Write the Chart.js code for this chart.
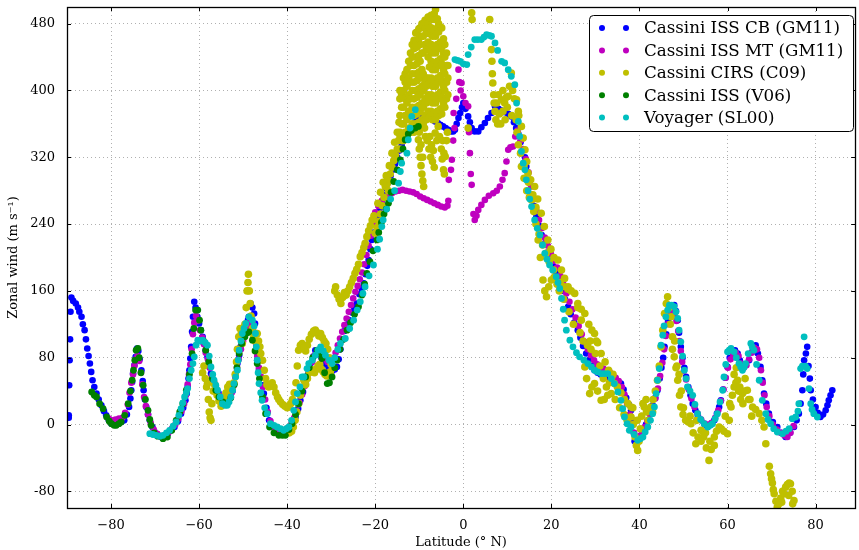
<!DOCTYPE html>
<html>
<head>
<meta charset="utf-8">
<script src="https://cdn.jsdelivr.net/npm/chart.js@4.4.1/dist/chart.umd.min.js"></script>
<style>
html, body { margin: 0; padding: 0; background: #fff; }
</style>
</head>
<body>
<canvas id="chart" width="859" height="550"></canvas>
<script>
// Saturn zonal wind profiles
// each series is a list of [latitude, wind] pairs

const xTicks = [-80, -60, -40, -20, 0, 20, 40, 60, 80];
const yTicks = [-80, 0, 80, 160, 240, 320, 400, 480];

const seriesLabels = ['Cassini ISS CB (GM11)', 'Cassini ISS MT (GM11)', 'Cassini CIRS (C09)', 'Cassini ISS (V06)', 'Voyager (SL00)'];
const seriesColors = ['#0000ff', '#bf00bf', '#bfbf00', '#008000', '#00bfbf'];

const issCB = [
  [-89.6, 11], [-89.6, 8], [-89.5, 47], [-89.4, 77], [-89.3, 102], [-89.2, 135], [-89.0, 152], [-88.6, 148],
  [-88.0, 145], [-87.5, 140], [-87.2, 135], [-86.7, 129], [-86.4, 120], [-86.0, 113], [-85.7, 102], [-85.4, 91],
  [-85.1, 82], [-84.8, 73], [-84.5, 63], [-84.2, 53], [-83.8, 45], [-83.3, 37], [-82.8, 30], [-82.2, 23],
  [-81.6, 16], [-81.1, 11], [-80.5, 5], [-79.9, 1], [-79.2, 0], [-78.4, 1], [-77.7, 3], [-77.0, 5],
  [-76.4, 12], [-75.9, 21], [-75.6, 31], [-75.4, 41], [-75.2, 51], [-75.0, 61], [-74.7, 71], [-74.4, 81],
  [-74.1, 91], [-73.8, 88], [-73.5, 78], [-73.1, 65], [-72.8, 52], [-72.6, 41], [-72.3, 30], [-72.0, 21],
  [-71.6, 12], [-71.2, 5], [-70.6, -3], [-70.1, -9], [-69.3, -13], [-68.6, -15], [-67.8, -14], [-67.1, -11],
  [-66.3, -7], [-65.6, -3], [-64.8, 4], [-64.1, 13], [-63.6, 20], [-63.1, 29], [-62.8, 37], [-62.6, 45],
  [-62.4, 55], [-62.2, 65], [-62.0, 79], [-61.8, 93], [-61.6, 111], [-61.4, 129], [-61.1, 147], [-60.8, 140],
  [-60.4, 129], [-60.0, 121], [-59.6, 113], [-59.2, 105], [-58.9, 97], [-58.5, 89], [-58.1, 81], [-57.7, 71],
  [-57.3, 61], [-56.8, 53], [-56.2, 45], [-55.6, 38], [-55.1, 33], [-54.5, 28], [-54.0, 25], [-53.4, 28],
  [-52.8, 33], [-52.4, 40], [-52.1, 49], [-51.7, 61], [-51.3, 73], [-50.9, 83], [-50.6, 93], [-50.0, 105],
  [-49.4, 117], [-48.9, 125], [-48.7, 129], [-48.3, 145], [-47.9, 140], [-47.5, 133], [-47.3, 121], [-47.2, 109],
  [-47.0, 93], [-46.8, 77], [-46.4, 66], [-46.0, 57], [-45.6, 47], [-45.3, 37], [-44.7, 20], [-44.1, 5],
  [-43.4, -2], [-42.6, -7], [-41.7, -9], [-40.8, -9], [-40.0, -7], [-39.2, -3], [-38.6, 3], [-38.1, 9],
  [-37.5, 19], [-37.0, 29], [-36.4, 39], [-35.8, 49], [-35.2, 61], [-34.7, 73], [-34.1, 81], [-33.6, 89],
  [-33.0, 85], [-32.2, 80], [-31.4, 72], [-30.6, 66], [-29.8, 64], [-29.2, 66], [-28.7, 69], [-28.3, 78],
  [-27.9, 90], [-27.6, 101], [-27.0, 112], [-26.5, 119], [-26.0, 125], [-25.3, 134], [-24.8, 140], [-24.2, 145],
  [-23.6, 156], [-23.1, 163], [-22.6, 169], [-22.2, 180], [-21.8, 190], [-21.5, 197], [-21.1, 210], [-20.8, 221],
  [-20.4, 230], [-20.0, 240], [-19.5, 250], [-19.0, 258], [-18.5, 266], [-18.0, 275], [-17.5, 283], [-17.0, 290],
  [-16.5, 298], [-16.0, 305], [-15.5, 312], [-15.0, 320], [-14.5, 328], [-14.0, 334], [-13.5, 340], [-13.0, 345],
  [-12.5, 350], [-12.0, 354], [-11.5, 358], [-11.0, 362], [-10.5, 364], [-10.0, 366], [-9.4, 367], [-8.8, 369],
  [-8.2, 370], [-7.5, 369], [-6.9, 366], [-6.4, 363], [-5.8, 361], [-5.2, 359], [-4.6, 357], [-4.0, 355],
  [-3.4, 353], [-2.8, 351], [-2.3, 351], [-1.9, 353], [-1.5, 360], [-1.1, 367], [-0.7, 373], [-0.3, 380],
  [0.0, 385], [0.5, 378], [1.1, 369], [1.5, 362], [1.9, 355], [2.6, 351], [3.4, 351], [4.1, 356],
  [4.9, 361], [5.6, 367], [6.4, 373], [7.2, 381], [8.0, 378], [8.7, 376], [9.4, 374], [10.2, 372],
  [10.9, 369], [11.5, 362], [12.0, 355], [12.5, 348], [13.0, 338], [13.6, 329], [14.0, 320], [14.3, 309],
  [15.0, 290], [15.5, 275], [16.0, 262], [16.6, 249], [17.2, 238], [17.8, 227], [18.5, 217], [19.1, 206],
  [19.8, 196], [20.5, 189], [21.1, 181], [21.8, 171], [22.4, 160], [23.1, 150], [23.8, 141], [24.4, 132],
  [25.2, 122], [26.0, 113], [26.6, 104], [27.2, 94], [27.9, 85], [28.5, 77], [29.2, 70], [29.8, 65],
  [30.5, 62], [31.2, 60], [32.0, 59], [32.8, 57], [33.5, 55], [34.2, 53], [35.0, 51], [35.8, 49],
  [36.4, 42], [37.0, 32], [37.6, 24], [38.1, 17], [38.4, 5], [38.7, -10], [38.9, -20], [39.3, -23],
  [39.8, -20], [40.4, -13], [41.0, -6], [41.5, 0], [41.9, 5], [42.5, 15], [43.0, 23], [43.6, 32],
  [44.1, 41], [44.6, 55], [45.0, 68], [45.4, 80], [45.7, 93], [46.1, 108], [46.5, 124], [46.8, 137],
  [47.3, 142], [47.9, 143], [48.3, 136], [48.7, 125], [49.0, 110], [49.4, 93], [49.8, 80], [50.2, 68],
  [50.6, 57], [51.1, 45], [51.6, 35], [52.1, 25], [52.7, 17], [53.3, 10], [54.0, 5], [54.8, 0],
  [55.5, -3], [56.3, 0], [57.0, 5], [57.6, 13], [58.1, 21], [58.5, 29], [59.0, 42], [59.5, 56],
  [60.0, 69], [60.5, 80], [61.1, 89], [61.7, 89], [62.3, 85], [62.8, 77], [63.4, 69], [64.1, 72],
  [64.9, 77], [65.6, 87], [66.4, 95], [66.9, 85], [67.5, 69], [67.9, 53], [68.3, 37], [68.8, 25],
  [69.4, 13], [70.3, 3], [71.3, -3], [72.2, -10], [73.2, -15], [74.2, -10], [75.1, -3], [75.7, 5],
  [76.2, 13], [76.6, 25], [77.0, 41], [77.2, 60], [77.4, 77], [77.8, 85], [78.1, 93], [78.4, 70],
  [78.7, 55], [78.9, 41], [79.4, 30], [80.0, 21], [80.5, 14], [81.1, 9], [81.7, 12], [82.3, 17],
  [82.7, 23], [83.0, 29], [83.4, 35], [83.8, 41]
];

const issMT = [
  [-80.5, 7], [-79.8, 5], [-79.0, 6], [-78.2, 7], [-77.4, 8], [-76.8, 14], [-76.2, 24], [-75.8, 38],
  [-75.4, 50], [-75.0, 60], [-74.7, 70], [-74.4, 78], [-74.0, 82], [-73.6, 76], [-73.2, 62], [-72.9, 48],
  [-72.5, 33], [-72.1, 22], [-71.6, 12], [-71.0, 2], [-70.3, -6], [-69.5, -11], [-68.7, -14], [-67.8, -13],
  [-67.0, -10], [-66.2, -5], [-65.4, 0], [-64.7, 7], [-64.0, 16], [-63.4, 25], [-63.0, 35], [-62.6, 48],
  [-62.3, 60], [-62.0, 72], [-61.7, 90], [-61.4, 108], [-61.1, 122], [-60.7, 130], [-60.3, 124], [-59.8, 113],
  [-59.3, 104], [-58.9, 96], [-58.5, 86], [-58.0, 78], [-57.6, 68], [-57.1, 58], [-56.5, 49], [-55.9, 41],
  [-55.2, 34], [-54.5, 29], [-53.8, 27], [-53.1, 31], [-52.6, 38], [-52.2, 46], [-51.8, 57], [-51.4, 68],
  [-51.0, 78], [-50.5, 90], [-50.0, 100], [-49.4, 110], [-48.8, 118], [-48.3, 124], [-47.8, 121], [-47.4, 110],
  [-47.1, 98], [-46.8, 82], [-46.4, 68], [-46.0, 57], [-45.5, 45], [-45.0, 30], [-44.4, 15], [-43.8, 4],
  [-43.0, -3], [-42.2, -6], [-41.4, -8], [-40.6, -7], [-39.8, -4], [-39.0, 1], [-38.4, 8], [-37.8, 16],
  [-37.2, 26], [-36.6, 36], [-36.0, 46], [-35.4, 56], [-34.9, 66], [-34.3, 75], [-33.8, 83], [-33.2, 88],
  [-32.6, 88], [-32.0, 83], [-31.4, 78], [-30.8, 75], [-30.2, 75], [-29.6, 79], [-29.0, 86], [-28.5, 95],
  [-28.0, 103], [-27.5, 111], [-27.0, 119], [-26.5, 127], [-26.0, 135], [-25.5, 143], [-25.0, 151], [-24.5, 159],
  [-24.0, 166], [-23.5, 174], [-23.0, 182], [-22.5, 192], [-22.0, 203], [-21.5, 214], [-21.0, 226], [-20.5, 240],
  [-20.0, 254], [-19.3, 262], [-18.5, 268], [-17.7, 272], [-17.0, 275], [-16.2, 277], [-15.4, 279], [-14.6, 280],
  [-13.8, 281], [-13.0, 280], [-12.2, 279], [-11.4, 278], [-10.6, 276], [-9.8, 273], [-9.0, 271], [-8.2, 269],
  [-7.4, 267], [-6.6, 265], [-5.8, 263], [-5.0, 261], [-4.2, 260], [-3.6, 262], [-3.4, 268], [-3.3, 293],
  [-2.8, 305], [-2.6, 317], [-2.3, 340], [-2.0, 355], [-2.2, 373], [-1.6, 390], [-1.1, 425], [-0.9, 410],
  [-0.6, 400], [-0.4, 409], [0.0, 393], [0.5, 385], [1.1, 381], [1.3, 350], [1.5, 325], [1.7, 300],
  [1.9, 287], [2.3, 252], [2.6, 245], [3.0, 250], [3.4, 257], [4.1, 263], [4.9, 269], [5.8, 274],
  [6.8, 277], [7.6, 280], [8.3, 285], [8.9, 293], [9.4, 301], [9.8, 315], [10.2, 329], [10.7, 332],
  [11.3, 333], [11.8, 345], [12.3, 352], [13.0, 340], [13.6, 330], [14.2, 318], [14.8, 302], [15.4, 285],
  [16.0, 270], [16.6, 256], [17.2, 245], [17.8, 235], [18.5, 224], [19.2, 214], [19.9, 204], [20.6, 196],
  [21.3, 188], [22.0, 178], [22.7, 168], [23.4, 157], [24.1, 147], [24.8, 138], [25.5, 128], [26.2, 118],
  [26.9, 108], [27.6, 99], [28.3, 90], [29.0, 83], [29.7, 77], [30.4, 72], [31.1, 69], [31.8, 67],
  [32.5, 65], [33.2, 63], [33.9, 60], [34.6, 56], [35.3, 52], [36.0, 45], [36.6, 36], [37.2, 25],
  [37.8, 12], [38.3, 0], [38.8, -10], [39.4, -15], [40.0, -14], [40.6, -9], [41.2, -3], [41.8, 4],
  [42.4, 12], [43.0, 21], [43.6, 31], [44.2, 43], [44.7, 58], [45.2, 74], [45.6, 90], [46.0, 106],
  [46.4, 120], [46.9, 131], [47.4, 134], [47.9, 132], [48.4, 124], [48.8, 112], [49.1, 100], [49.4, 88],
  [49.7, 75], [50.1, 64], [50.6, 54], [51.2, 42], [51.8, 31], [52.5, 21], [53.2, 13], [54.0, 6],
  [54.8, 1], [55.6, 0], [56.4, 2], [57.2, 8], [57.9, 17], [58.5, 28], [59.1, 42], [59.6, 56],
  [60.1, 68], [60.7, 78], [61.3, 84], [61.9, 86], [62.5, 82], [63.1, 73], [63.7, 68], [64.3, 71],
  [64.9, 78], [65.5, 86], [66.1, 92], [66.7, 90], [67.2, 80], [67.6, 65], [68.0, 50], [68.4, 35],
  [68.9, 21], [69.5, 10], [70.3, 0], [71.2, -6], [72.1, -10], [72.9, -13], [73.6, -15], [74.3, -10],
  [75.0, -2]
];

const cirsC09 = [
  // southern mid latitudes
  [-59.2, 62], [-58.9, 70], [-58.6, 55], [-58.3, 45], [-58.1, 49], [-57.9, 30], [-57.7, 15], [-57.5, 8],
  [-57.3, 5], [-57.1, 25], [-56.8, 40], [-56.5, 48], [-56.2, 41], [-55.9, 35], [-55.5, 28], [-55.0, 22],
  [-54.6, 30], [-54.3, 33], [-53.9, 38], [-53.5, 45], [-53.1, 48], [-52.8, 41], [-52.5, 44], [-52.1, 50],
  [-51.8, 60], [-51.5, 75], [-51.3, 90], [-51.0, 105], [-50.7, 115], [-50.4, 110], [-50.2, 97], [-49.9, 108],
  [-49.6, 120], [-49.3, 140], [-49.1, 160], [-48.9, 170], [-48.8, 180], [-48.6, 160], [-48.4, 145], [-48.2, 130],
  [-47.9, 115], [-47.6, 105], [-47.3, 100], [-47.0, 108], [-46.8, 109], [-46.5, 100], [-46.2, 93], [-46.0, 85],
  [-45.6, 77], [-45.2, 65], [-44.9, 55], [-44.6, 48], [-44.2, 45], [-43.8, 47], [-43.4, 50], [-43.0, 45],
  [-42.6, 38], [-42.2, 33], [-41.9, 30], [-41.5, 27], [-41.0, 24], [-40.5, 22], [-40.0, 20], [-39.6, 21],
  [-39.2, 25], [-38.8, 30], [-38.4, 38], [-38.0, 50], [-37.7, 70], [-37.4, 89], [-37.0, 95], [-36.6, 97],
  [-36.2, 92], [-35.8, 88], [-35.4, 95], [-35.0, 102], [-34.5, 108], [-34.0, 112], [-33.6, 113], [-33.2, 110],
  [-32.8, 106], [-32.4, 109], [-32.0, 104], [-31.6, 100], [-31.2, 97], [-30.8, 90], [-30.4, 80], [-30.0, 72],
  [-29.6, 68],
  [-39.8, -5], [-39.5, -10], [-39.0, -8], [-38.6, -3], [-38.2, 5], [-37.8, 15], [-37.4, 25], [-37.0, 35],
  [-36.6, 45], [-36.2, 53], [-35.8, 48], [-35.4, 55], [-35.0, 62], [-34.6, 66], [-34.2, 65], [-33.8, 62],
  [-33.4, 66], [-33.0, 70], [-32.6, 72], [-32.2, 66], [-31.8, 63], [-31.4, 60], [-31.0, 58], [-30.6, 61],
  [-30.2, 63],
  [-29.2, 160], [-29.0, 165], [-28.6, 155], [-28.2, 150], [-27.8, 145], [-27.4, 152], [-27.0, 158], [-26.6, 155],
  [-26.2, 160], [-25.8, 165], [-25.4, 170], [-25.0, 175], [-24.6, 181], [-24.2, 186], [-23.8, 192], [-23.4, 201],
  [-23.0, 206], [-22.6, 212], [-22.3, 217], [-21.9, 225], [-21.5, 232], [-21.1, 238], [-20.7, 245], [-20.3, 250],
  // equatorial jet, south side
  [-20.0, 229], [-19.6, 236], [-19.2, 243], [-18.8, 252], [-18.4, 262], [-18.0, 272], [-17.7, 285], [-17.3, 288],
  [-17.0, 292], [-16.6, 300], [-16.2, 308], [-15.8, 316], [-15.4, 322], [-15.0, 330], [-14.7, 340], [-14.4, 346],
  [-19.4, 265], [-18.8, 278], [-18.2, 290], [-17.5, 298], [-16.8, 310], [-16.2, 325], [-15.6, 338], [-15.0, 350],
  [-14.6, 362], [-17.0, 280],
  [-14.4, 330], [-14.4, 350], [-14.4, 370], [-14.4, 390], [-14.4, 400],
  [-14.0, 340], [-14.0, 360], [-14.0, 380], [-14.0, 395],
  [-13.6, 340], [-13.6, 360], [-13.6, 380], [-13.6, 400], [-13.6, 415],
  [-13.2, 350], [-13.2, 370], [-13.2, 390], [-13.2, 410], [-13.2, 420],
  [-12.8, 345], [-12.8, 365], [-12.8, 385], [-12.8, 405], [-12.8, 425],
  [-12.4, 355], [-12.4, 375], [-12.4, 395], [-12.4, 415], [-12.4, 435],
  [-12.0, 350], [-12.0, 370], [-12.0, 390], [-12.0, 410], [-12.0, 430], [-12.0, 445],
  [-11.6, 360], [-11.6, 380], [-11.6, 400], [-11.6, 420], [-11.6, 440], [-11.6, 455],
  [-11.2, 350], [-11.2, 370], [-11.2, 390], [-11.2, 410], [-11.2, 430], [-11.2, 450], [-11.2, 460],
  [-10.8, 360], [-10.8, 380], [-10.8, 400], [-10.8, 420], [-10.8, 440], [-10.8, 460], [-10.8, 469],
  [-10.5, 352], [-10.5, 372], [-10.5, 392], [-10.5, 412], [-10.5, 432], [-10.5, 452], [-10.5, 470],
  [-10.1, 362], [-10.1, 382], [-10.1, 402], [-10.1, 422], [-10.1, 442], [-10.1, 462], [-10.1, 474],
  [-9.8, 355], [-9.8, 375], [-9.8, 395], [-9.8, 415], [-9.8, 435], [-9.8, 455], [-9.8, 475],
  [-9.4, 365], [-9.4, 385], [-9.4, 405], [-9.4, 425], [-9.4, 445], [-9.4, 465], [-9.4, 480],
  [-9.1, 360], [-9.1, 380], [-9.1, 400], [-9.1, 420], [-9.1, 445], [-9.1, 465], [-9.1, 478],
  [-8.7, 370], [-8.7, 390], [-8.7, 410], [-8.7, 455], [-8.7, 475], [-8.7, 484],
  [-8.4, 365], [-8.4, 385], [-8.4, 405], [-8.4, 415], [-8.4, 450], [-8.4, 470], [-8.4, 482],
  [-8.0, 375], [-8.0, 395], [-8.0, 415], [-8.0, 440], [-8.0, 458], [-8.0, 478], [-8.0, 488],
  [-7.7, 368], [-7.7, 388], [-7.7, 408], [-7.7, 428], [-7.7, 448], [-7.7, 468], [-7.7, 488],
  [-7.3, 375], [-7.3, 395], [-7.3, 415], [-7.3, 435], [-7.3, 455], [-7.3, 475], [-7.3, 490],
  [-7.0, 365], [-7.0, 385], [-7.0, 405], [-7.0, 425], [-7.0, 445], [-7.0, 465], [-7.0, 485],
  [-6.6, 372], [-6.6, 392], [-6.6, 412], [-6.6, 432], [-6.6, 452], [-6.6, 472], [-6.6, 492],
  [-6.3, 365], [-6.3, 385], [-6.3, 405], [-6.3, 425], [-6.3, 445], [-6.3, 465], [-6.3, 485], [-6.3, 497],
  [-5.9, 375], [-5.9, 395], [-5.9, 415], [-5.9, 435], [-5.9, 455], [-5.9, 475], [-5.9, 486],
  [-5.6, 370], [-5.6, 390], [-5.6, 410], [-5.6, 430], [-5.6, 450], [-5.6, 470], [-5.6, 480],
  [-5.2, 378], [-5.2, 398], [-5.2, 418], [-5.2, 438], [-5.2, 458], [-5.2, 476],
  [-4.9, 372], [-4.9, 392], [-4.9, 412], [-4.9, 432], [-4.9, 452], [-4.9, 475],
  [-4.5, 385], [-4.5, 405], [-4.5, 425], [-4.5, 445], [-4.5, 462],
  [-4.2, 380], [-4.2, 400], [-4.2, 420], [-4.2, 440], [-4.2, 455],
  [-3.8, 390], [-3.8, 410], [-3.8, 430], [-3.8, 445],
  [-3.5, 395], [-3.5, 415], [-3.5, 430],
  [-10.2, 341], [-10.0, 330], [-9.8, 320], [-9.6, 310], [-9.4, 300], [-9.2, 292], [-9.0, 285], [-8.6, 345],
  [-8.2, 340], [-7.8, 330], [-7.4, 320], [-7.0, 315], [-6.6, 308], [-6.4, 349], [-6.0, 340], [-5.7, 357],
  [-5.0, 330], [-4.8, 318], [-4.5, 305], [-4.3, 300], [-4.1, 321], [-3.8, 340], [-3.6, 350],
  [-10.0, 350], [-9.6, 335], [-9.2, 320], [-8.8, 355], [-7.6, 345], [-7.2, 335], [-6.8, 328], [-5.4, 345],
  [-4.7, 340], [-4.4, 325],
  // equatorial jet, north side
  [1.9, 493], [2.0, 485], [6.0, 485], [1.1, 355],
  [6.4, 449], [6.5, 435], [6.6, 420], [6.7, 409], [6.9, 395], [7.0, 385], [7.2, 375], [7.4, 365],
  [7.8, 360], [8.2, 372], [8.7, 389], [9.0, 375], [9.4, 385], [9.8, 392], [10.2, 393], [10.5, 405],
  [10.9, 421], [11.2, 400], [11.6, 390], [12.1, 389], [8.0, 395], [9.0, 400], [10.0, 380], [11.0, 370],
  [12.0, 365], [12.5, 375], [7.6, 385], [8.5, 360], [9.5, 365],
  [12.6, 370], [13.2, 357], [13.6, 343], [14.0, 329], [14.4, 315], [14.7, 301], [15.3, 293], [16.2, 285],
  [16.9, 270], [17.7, 253], [18.4, 237], [19.2, 221], [19.9, 210], [20.6, 200], [21.5, 197], [22.3, 185],
  [23.0, 175], [23.8, 165], [24.5, 160], [25.3, 157], [26.0, 145], [26.8, 138], [27.6, 133], [28.5, 120],
  [29.2, 113], [29.8, 109], [30.5, 98], [31.3, 85], [32.2, 75], [33.0, 65], [33.7, 57], [34.3, 49],
  [35.0, 45], [35.8, 38], [36.6, 30], [37.4, 25], [38.1, 21],
  [12.5, 335], [13.2, 309], [13.8, 295], [14.4, 280], [15.0, 272], [15.5, 269], [16.0, 255], [16.5, 240],
  [17.0, 221], [17.5, 200], [18.1, 173], [18.5, 160], [18.9, 153], [19.4, 165], [20.0, 173], [20.6, 176],
  [21.3, 168], [22.0, 170], [23.0, 165], [23.8, 162], [26.0, 140], [26.8, 125], [27.2, 100], [27.6, 69],
  [28.0, 55], [28.7, 37], [29.2, 45], [29.8, 49], [30.5, 40], [31.3, 29], [32.0, 30], [32.8, 35],
  [33.6, 37], [34.5, 30], [35.5, 20], [36.5, 12], [37.2, 5],
  [28.2, 95], [29.0, 90], [30.0, 85], [31.0, 70], [31.8, 55], [32.5, 45], [33.2, 50], [34.0, 60],
  [30.2, 100], [28.8, 100], [26.5, 110], [25.0, 120], [24.0, 135], [22.8, 150], [21.8, 160], [20.5, 185],
  [19.5, 195], [18.8, 205], [18.0, 215], [17.2, 228], [16.5, 260], [15.8, 275], [14.8, 290], [13.8, 310],
  [13.0, 325], [12.2, 350],
  // northern mid latitudes
  [38.1, 9], [38.6, 0], [39.0, -15], [39.3, -25], [39.6, -31], [39.9, -20], [40.2, -5], [40.5, 10],
  [41.1, 21], [41.6, 15], [42.1, 18], [42.6, 21], [43.1, 30], [43.6, 40], [44.1, 53], [44.5, 70],
  [44.9, 93], [45.3, 113], [45.7, 133], [46.1, 145], [46.4, 153], [46.8, 140], [47.2, 129], [47.5, 105],
  [47.9, 81], [48.3, 68], [48.7, 53], [49.1, 35], [49.4, 21], [49.9, 12], [50.5, 5], [51.1, 3],
  [51.7, 1], [52.2, -10], [52.8, -23], [53.3, -15], [54.0, -7], [54.6, -15], [55.2, -28], [55.8, -43],
  [56.3, -30], [57.0, -15], [57.5, -8], [58.1, -3], [58.6, -5], [59.2, -8], [60.0, -11], [60.4, 5],
  [60.8, 21], [61.1, 35], [61.5, 45], [61.9, 50], [62.3, 53], [62.8, 45], [63.4, 37], [63.9, 40],
  [64.5, 41], [65.1, 30], [65.7, 21], [66.4, 18], [67.2, 13], [67.8, 5], [68.3, -3], [68.7, -23],
  [40.8, 25], [42.0, 5], [43.0, 15], [41.5, 30], [39.5, 5], [38.5, 20],
  [47.0, 120], [47.5, 90], [48.0, 100], [48.5, 70], [49.0, 60], [49.5, 40], [50.0, 20],
  [51.5, 10], [53.0, 5], [54.0, -20], [55.0, -10], [56.0, -20], [57.0, -25],
  [59.5, 10], [60.5, 25], [61.5, 60], [62.0, 68], [62.5, 40], [63.0, 30], [63.5, 25], [64.0, 55],
  [64.8, 30], [65.5, 10],
  [69.5, -50], [69.8, -59], [70.2, -70], [70.6, -83], [71.0, -92], [71.3, -99], [71.7, -95], [72.1, -88],
  [72.5, -80], [72.8, -83], [73.2, -75], [73.6, -72], [74.0, -70], [74.3, -71], [74.7, -80], [75.1, -91],
  [70.0, -65], [70.4, -78], [72.3, -93], [73.9, -85], [74.8, -95]
];

const issV06 = [
  [-84.4, 39], [-83.8, 35], [-83.3, 33], [-82.6, 25], [-81.8, 19], [-81.0, 9], [-80.4, 4], [-79.9, 1],
  [-79.3, -1], [-78.8, -1], [-78.2, 1], [-77.7, 3], [-76.9, 11], [-76.1, 25], [-75.6, 40], [-75.2, 53],
  [-74.9, 65], [-74.6, 77], [-74.3, 89], [-73.9, 91], [-73.6, 80], [-73.2, 62], [-72.7, 47], [-72.2, 30],
  [-71.6, 17], [-71.2, 6], [-70.9, -1], [-70.2, -10], [-69.4, -14], [-68.2, -17], [-67.2, -15], [-66.2, -7],
  [-65.2, 5], [-64.4, 15], [-63.7, 25], [-62.9, 41], [-62.2, 60], [-61.6, 85], [-61.2, 115], [-60.8, 137],
  [-60.3, 137], [-59.9, 125], [-59.6, 113], [-59.0, 100], [-58.5, 89], [-57.8, 75], [-57.0, 55], [-56.2, 41],
  [-55.5, 33], [-54.6, 27], [-53.7, 25], [-52.8, 32], [-52.0, 48], [-51.4, 68], [-50.9, 85], [-50.3, 97],
  [-49.6, 105], [-49.0, 110], [-48.7, 111], [-47.9, 101], [-47.3, 88], [-46.8, 73], [-46.3, 55], [-45.6, 33],
  [-44.9, 13], [-44.0, -3], [-43.0, -10], [-41.9, -13], [-41.1, -13], [-40.4, -13], [-39.6, -6], [-38.9, 1],
  [-38.1, 12], [-37.4, 25], [-36.6, 40], [-35.8, 57], [-35.0, 68], [-34.2, 80], [-33.2, 89], [-32.6, 85],
  [-32.1, 79], [-31.5, 62], [-30.9, 49], [-30.4, 50], [-29.8, 57], [-29.2, 68], [-28.7, 77], [-28.0, 90],
  [-27.2, 102], [-26.4, 113], [-25.6, 122], [-24.7, 132], [-23.8, 141], [-23.0, 155], [-22.4, 168], [-21.9, 181],
  [-21.2, 195], [-20.5, 208], [-19.6, 221], [-19.2, 230], [-18.6, 242], [-18.0, 252], [-17.5, 258], [-17.0, 265],
  [-16.4, 278], [-15.8, 291], [-15.0, 305], [-14.3, 317], [-13.7, 330], [-13.2, 341], [-12.5, 348], [-11.8, 352],
  [-10.9, 355], [-10.2, 357]
];

const voyagerSL00 = [
  [-71.2, -11], [-70.5, -12], [-69.7, -13], [-68.9, -14], [-68.2, -13], [-67.4, -10], [-66.7, -7], [-65.9, -2],
  [-65.2, 3], [-64.6, 11], [-64.1, 19], [-63.7, 26], [-63.3, 33], [-62.9, 38], [-62.6, 43], [-62.2, 55],
  [-61.8, 65], [-61.4, 73], [-61.1, 81], [-60.7, 95], [-60.3, 101], [-59.8, 100], [-59.2, 101], [-58.6, 98],
  [-58.1, 95], [-57.7, 82], [-57.3, 69], [-56.9, 60], [-56.6, 53], [-56.2, 47], [-55.8, 41], [-55.2, 33],
  [-54.7, 25], [-54.1, 23], [-53.6, 23], [-53.2, 27], [-52.8, 33], [-52.4, 41], [-52.1, 49], [-51.7, 57],
  [-51.3, 65], [-51.1, 77], [-50.9, 89], [-50.5, 100], [-50.2, 109], [-49.8, 115], [-49.4, 121], [-48.7, 129],
  [-47.9, 125], [-47.5, 118], [-47.2, 109], [-47.0, 93], [-46.8, 77], [-46.6, 62], [-46.4, 49], [-46.0, 38],
  [-45.7, 29], [-45.1, 20], [-44.5, 13], [-43.8, 1], [-43.0, -1], [-42.3, -3], [-41.5, -5], [-40.8, -7],
  [-40.2, -5], [-39.6, -3], [-39.0, 5], [-38.5, 17], [-38.1, 27], [-37.7, 37], [-37.1, 45], [-36.6, 57],
  [-36.2, 57], [-35.5, 67], [-35.1, 73], [-34.3, 77], [-33.6, 83], [-33.0, 89], [-32.4, 93], [-31.8, 88],
  [-31.3, 83], [-30.5, 77], [-29.8, 73], [-29.2, 80], [-28.5, 90], [-27.9, 97], [-26.8, 103], [-25.8, 115],
  [-24.9, 125], [-24.1, 137], [-23.4, 147], [-22.8, 157], [-22.3, 165], [-21.4, 178], [-20.4, 191], [-19.5, 210],
  [-19.0, 222], [-18.5, 237], [-18.2, 245], [-17.4, 258], [-16.5, 270], [-15.6, 280], [-14.7, 289], [-14.3, 303],
  [-14.0, 313], [-12.8, 325], [-12.5, 341], [-12.1, 355], [-11.7, 369], [-10.9, 377],
  [-1.9, 437], [-1.3, 436], [-0.7, 435], [0.0, 432], [0.8, 431], [1.1, 443], [1.8, 452], [2.6, 461],
  [3.3, 461], [4.1, 461], [4.7, 464], [5.3, 467], [5.9, 466], [6.4, 465], [7.2, 457], [7.8, 448],
  [8.7, 435], [9.4, 433], [10.2, 425], [10.9, 417], [11.7, 407], [12.1, 385], [12.5, 363], [12.8, 345],
  [13.2, 327], [13.6, 313], [14.0, 305], [14.3, 293], [14.7, 280], [15.1, 270], [15.5, 261], [16.2, 245],
  [16.8, 235], [17.4, 227], [18.0, 215], [18.5, 205], [19.0, 198], [19.6, 191], [20.3, 185], [21.1, 177],
  [21.5, 170], [21.9, 163], [22.3, 151], [22.7, 138], [23.0, 125], [23.4, 113], [24.2, 101], [24.9, 93],
  [25.7, 86], [26.4, 81], [27.4, 77], [28.3, 73], [29.1, 69], [29.8, 65], [30.5, 63], [31.3, 61],
  [32.0, 61], [32.8, 61], [33.6, 55], [34.3, 49], [35.1, 39], [35.8, 29], [36.2, 19], [36.6, 9],
  [37.2, 1], [37.7, -7], [38.1, -3], [38.8, -12], [39.6, -19], [40.2, -17], [40.8, -15], [41.3, -9],
  [41.9, -3], [42.5, 5], [43.0, 13], [43.4, 21], [43.8, 37], [44.1, 53], [44.5, 67], [44.9, 95],
  [45.3, 107], [45.6, 118], [46.0, 129], [46.4, 137], [46.8, 143], [47.3, 143], [47.9, 141], [48.3, 135],
  [48.7, 127], [49.0, 113], [49.4, 99], [49.8, 82], [50.2, 65], [50.6, 55], [50.9, 45], [51.5, 40],
  [52.1, 35], [52.6, 24], [53.2, 13], [53.9, 6], [54.7, 1], [55.5, -3], [56.1, -1], [56.6, 1],
  [57.2, 7], [57.7, 13], [58.3, 27], [58.9, 41], [59.2, 57], [59.6, 72], [60.0, 87], [60.4, 89],
  [60.8, 91], [61.5, 87], [62.0, 80], [62.6, 73], [63.0, 69], [63.4, 65], [63.8, 69], [64.1, 73],
  [64.7, 85], [65.3, 97], [65.6, 93], [66.0, 89], [66.6, 72], [67.2, 53], [67.9, 29], [68.7, 13],
  [69.2, 6], [69.8, 1], [70.5, -5], [71.3, -9], [72.5, -11], [73.3, -8], [74.0, -5], [74.7, 7],
  [75.5, 9], [76.0, 16], [76.2, 25], [76.6, 67], [77.0, 70], [77.4, 105], [77.7, 70], [78.1, 67],
  [78.5, 43], [78.9, 25], [79.2, 18], [79.6, 13], [80.4, 9]
];

const allSeries = [issCB, issMT, cirsC09, issV06, voyagerSL00];
const pointSizes = [3.3, 3.3, 3.8, 3.4, 3.4];

const FONT = '"DejaVu Serif", "Liberation Serif", serif';

// frame with inward ticks on all four sides, like the original plot
const frameTicks = {
  id: 'frameTicks',
  afterDatasetsDraw(chart) {
    const { ctx, chartArea: a, scales } = chart;
    ctx.save();
    ctx.strokeStyle = '#000';
    ctx.lineWidth = 1;
    ctx.beginPath();
    xTicks.forEach(v => {
      const px = Math.round(scales.x.getPixelForValue(v)) + 0.5;
      ctx.moveTo(px, a.top); ctx.lineTo(px, a.top + 4);
      ctx.moveTo(px, a.bottom); ctx.lineTo(px, a.bottom - 4);
    });
    yTicks.forEach(v => {
      const py = Math.round(scales.y.getPixelForValue(v)) + 0.5;
      ctx.moveTo(a.left, py); ctx.lineTo(a.left + 4, py);
      ctx.moveTo(a.right, py); ctx.lineTo(a.right - 4, py);
    });
    ctx.stroke();
    ctx.lineWidth = 1.3;
    ctx.strokeRect(Math.round(a.left) + 0.5, Math.round(a.top) + 0.5,
      Math.round(a.right - a.left), Math.round(a.bottom - a.top));
    ctx.restore();
  }
};

// matplotlib style legend box, two markers per entry
const legendBox = {
  id: 'legendBox',
  afterDraw(chart) {
    const ctx = chart.ctx;
    const x = 589.5, y = 15.5, w = 264, h = 116, r = 4;
    ctx.save();
    ctx.beginPath();
    ctx.moveTo(x + r, y);
    ctx.arcTo(x + w, y, x + w, y + h, r);
    ctx.arcTo(x + w, y + h, x, y + h, r);
    ctx.arcTo(x, y + h, x, y, r);
    ctx.arcTo(x, y, x + w, y, r);
    ctx.closePath();
    ctx.fillStyle = '#fff';
    ctx.fill();
    ctx.strokeStyle = '#000';
    ctx.lineWidth = 1;
    ctx.stroke();
    ctx.font = '16.7px ' + FONT;
    ctx.textBaseline = 'middle';
    seriesLabels.forEach((label, i) => {
      const cy = 28 + i * 22.4;
      ctx.fillStyle = seriesColors[i];
      [602, 626].forEach(cx => {
        ctx.beginPath();
        ctx.arc(cx, cy, 3, 0, Math.PI * 2);
        ctx.fill();
      });
      ctx.fillStyle = '#000';
      ctx.fillText(label, 644, cy + 1);
    });
    ctx.restore();
  }
};

const datasets = allSeries.map((pts, i) => ({
  label: seriesLabels[i],
  data: pts.map(p => ({ x: p[0], y: p[1] })),
  backgroundColor: seriesColors[i],
  borderWidth: 0,
  pointRadius: pointSizes[i],
  pointHoverRadius: pointSizes[i],
  order: allSeries.length - 1 - i
}));

new Chart(document.getElementById('chart'), {
  type: 'scatter',
  data: { datasets: datasets },
  plugins: [frameTicks, legendBox],
  options: {
    responsive: false,
    animation: false,
    layout: { padding: { left: 0, right: 1, top: 7, bottom: 0 } },
    plugins: {
      legend: { display: false },
      tooltip: { enabled: false }
    },
    scales: {
      x: {
        type: 'linear',
        min: -90,
        max: 89,
        afterBuildTicks: s => { s.ticks = xTicks.map(v => ({ value: v })); },
        afterFit: s => { s.height = 42; s.paddingLeft = 0; s.paddingRight = 0; },
        grid: { color: '#b0b0b0', lineWidth: 1, drawTicks: false },
        border: { display: false, dash: [1, 3] },
        ticks: {
          padding: 10,
          color: '#000',
          font: { family: FONT, size: 13 },
          maxRotation: 0,
          callback: v => (v < 0 ? '\u2212' + Math.abs(v) : String(v))
        },
        title: {
          display: true,
          text: 'Latitude (\u00b0 N)',
          color: '#000',
          font: { family: FONT, size: 13 },
          padding: { top: 0, bottom: 0 }
        }
      },
      y: {
        type: 'linear',
        min: -100,
        max: 500,
        afterBuildTicks: s => { s.ticks = yTicks.map(v => ({ value: v })); },
        afterFit: s => { s.width = 67; s.paddingTop = 0; s.paddingBottom = 0; },
        grid: { color: '#b0b0b0', lineWidth: 1, drawTicks: false },
        border: { display: false, dash: [1, 3] },
        ticks: {
          padding: 12,
          color: '#000',
          font: { family: FONT, size: 13 }
        },
        title: {
          display: true,
          text: 'Zonal wind (m s\u207b\u00b9)',
          color: '#000',
          font: { family: FONT, size: 13 },
          padding: { top: 6, bottom: 0 }
        }
      }
    }
  }
});
</script>
</body>
</html>
